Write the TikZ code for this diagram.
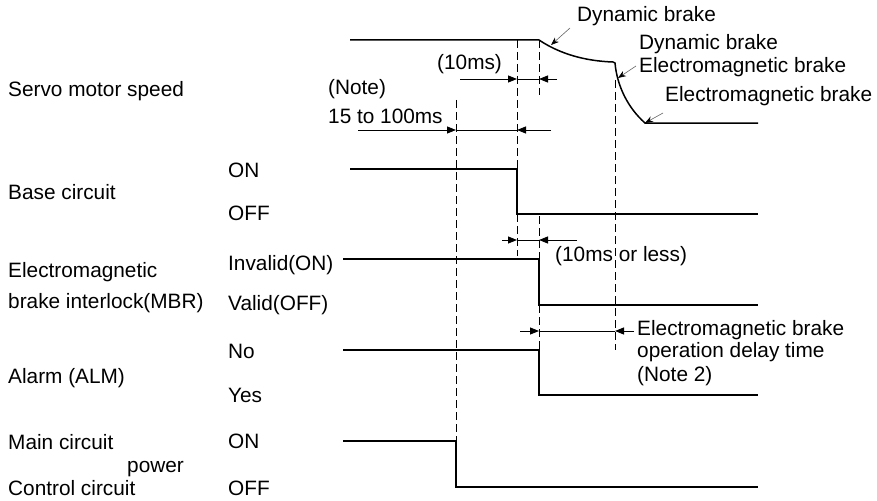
\documentclass[tikz,border=0pt]{standalone}
\usepackage{fontspec}
\setmainfont{Liberation Sans}
\usetikzlibrary{arrows.meta}
\tikzset{
  sig/.style={line width=1.5pt, line join=miter},
  dsh/.style={line width=0.8pt, dash pattern=on 8pt off 4pt},
  dimline/.style={line width=0.9pt},
  dimtip/.style={line width=0.9pt, -{Triangle[length=9pt,width=7pt]}},
  leader/.style={line width=0.6pt, draw=black!60, -{Stealth[length=8pt,width=6pt,color=black]}},
  lbl/.style={anchor=base west, inner sep=0pt, font=\fontsize{20.8}{25}\selectfont}
}
\begin{document}
\begin{tikzpicture}[x=1pt,y=-1pt]
\useasboundingbox (0,0) rectangle (877,500);

% ---- left labels
\node[lbl] (lspeed) at (8,97) {Servo motor speed};
\node[lbl] (lbase) at (8,199) {Base circuit};
\node[lbl] (lmbr1) at (8,277) {Electromagnetic};
\node[lbl] (lmbr2) at (8,308) {brake interlock(MBR)};
\node[lbl] (lalm) at (8,383) {Alarm (ALM)};
\node[lbl] (lmain) at (8,449) {Main circuit};
\node[lbl] (lpower) at (127,472) {power};
\node[lbl] (lctrl) at (8,495) {Control circuit};

% ---- state labels
\node[lbl] (son) at (228,177) {ON};
\node[lbl] (soff) at (228,220) {OFF};
\node[lbl] (sinv) at (228,270) {Invalid(ON)};
\node[lbl] (sval) at (228,310) {Valid(OFF)};
\node[lbl] (sno) at (228,358) {No};
\node[lbl] (syes) at (228,402) {Yes};
\node[lbl] (mon) at (228,448) {ON};
\node[lbl] (moff) at (228,495) {OFF};

% ---- timing labels
\node[lbl] (t10) at (437,70) {(10ms)};
\node[lbl] (tnote) at (328,95) {(Note)};
\node[lbl] (t15) at (328,123) {15 to 100ms};
\node[lbl] (tless) at (555,261) {(10ms or less)};
\node[lbl] (td1) at (637,335) {Electromagnetic brake};
\node[lbl] (td2) at (637,357) {operation delay time};
\node[lbl] (td3) at (637,381) {(Note 2)};
\node[lbl] (db1) at (577,22) {Dynamic brake};
\node[lbl] (db2) at (639,50) {Dynamic brake};
\node[lbl] (eb2) at (639,73) {Electromagnetic brake};
\node[lbl] (eb3) at (665,102) {Electromagnetic brake};

% ---- dashed guide lines
\draw[dsh] (456,100) -- (456,441);
\draw[dsh] (517,40) -- (517,169);
\draw[dsh] (517,214) -- (517,256);
\draw[dsh] (539,40) -- (539,95);
\draw[dsh] (539,216) -- (539,259);
\draw[dsh] (539,305) -- (539,350);
\draw[dsh] (615,80) -- (615,350);

% ---- signals
\coordinate (sp0) at (350,40);
\coordinate (sp1) at (539,40);
\coordinate (sp2) at (613,62);
\coordinate (sp3) at (615,63);
\coordinate (sp4) at (645,123);
\coordinate (sp5) at (758,123);
\draw[sig] (sp0) -- (sp1) .. controls (560,54) and (585,61) .. (sp2) -- (sp3)
  .. controls (617,86) and (628,108) .. (sp4) -- (sp5);
\draw[sig] (350,169) -- (517,169) -- (517,214) -- (758,214);
\draw[sig] (343,259) -- (539,259) -- (539,305) -- (758,305);
\draw[sig] (343,350) -- (539,350) -- (539,395) -- (758,395);
\draw[sig] (343,441) -- (456,441) -- (456,487) -- (758,487);

% ---- dimension arrows
\coordinate (a1l) at (460,79); \coordinate (a1a) at (517,79);
\coordinate (a1b) at (539,79); \coordinate (a1r) at (557,79);
\draw[dimline] (a1a) -- (a1b);
\draw[dimtip] (a1l) -- (a1a);
\draw[dimtip] (a1r) -- (a1b);

\coordinate (a2l) at (358,130); \coordinate (a2a) at (456,130);
\coordinate (a2b) at (517,130); \coordinate (a2r) at (551,130);
\draw[dimline] (a2a) -- (a2b);
\draw[dimtip] (a2l) -- (a2a);
\draw[dimtip] (a2r) -- (a2b);

\coordinate (a3l) at (502,240); \coordinate (a3a) at (517,240);
\coordinate (a3b) at (539,240); \coordinate (a3r) at (577,240);
\draw[dimline] (a3a) -- (a3b);
\draw[dimtip] (a3l) -- (a3a);
\draw[dimtip] (a3r) -- (a3b);

\coordinate (a4l) at (520,331); \coordinate (a4a) at (539,331);
\coordinate (a4b) at (615,331); \coordinate (a4r) at (634,331);
\draw[dimline] (a4a) -- (a4b);
\draw[dimtip] (a4l) -- (a4a);
\draw[dimtip] (a4r) -- (a4b);

% ---- leaders
\coordinate (l1s) at (570,28); \coordinate (l1e) at (551,45);
\coordinate (l2s) at (636,66); \coordinate (l2e) at (618,78);
\coordinate (l3s) at (663,113); \coordinate (l3e) at (645,123);
\draw[leader] (l1s) -- (l1e);
\draw[leader] (l2s) -- (l2e);
\draw[leader] (l3s) -- (l3e);
\end{tikzpicture}
\end{document}
